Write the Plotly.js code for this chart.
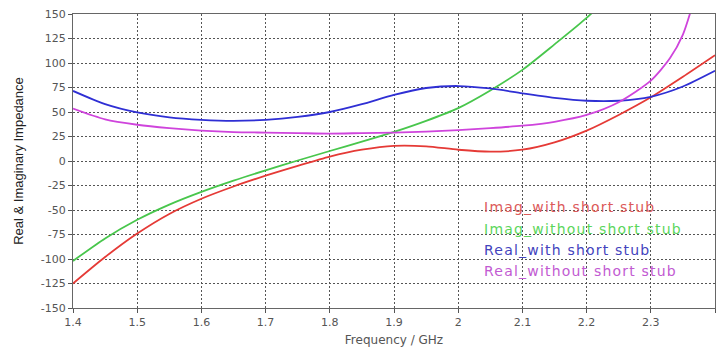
<!DOCTYPE html>
<html>
<head>
<meta charset="utf-8">
<script src="https://cdn.plot.ly/plotly-3.0.1.min.js"></script>
<style>
  html, body { margin: 0; padding: 0; background: #ffffff; }
  #chart { width: 719px; height: 347px; }
  .legend .legendlines, .legend .legendsymbols { display: none; }
  .legend .legendtext { letter-spacing: 1.2px; }
  .legend .scrollbox { clip-path: none !important; }
</style>
</head>
<body>
<div id="chart"></div>
<script>
// Frequency grid (GHz)
const freq = [1.40, 1.45, 1.50, 1.55, 1.60, 1.65, 1.70, 1.75, 1.80, 1.85, 1.90, 1.95, 2.00, 2.05, 2.10, 2.15, 2.20, 2.25, 2.30, 2.35, 2.40];

// Imag_with short stub
const imagWith = [-125, -98, -74, -54, -38.5, -26, -15, -5, 4.5, 11.5, 15.5, 15, 11.5, 9.5, 11.5, 19, 31, 47, 65, 86, 108];

// Imag_without short stub (leaves the top of the plot near 2.2 GHz)
const freqImagWithout = [1.40, 1.45, 1.50, 1.55, 1.60, 1.65, 1.70, 1.75, 1.80, 1.85, 1.90, 1.95, 2.00, 2.05, 2.10, 2.15, 2.20, 2.25];
const imagWithout = [-102, -79, -60, -44.5, -31.5, -20, -9.5, 0.5, 10.2, 19.7, 29.7, 41, 54, 72, 93, 119, 146, 178];

// Real_with short stub
const realWith = [71.5, 58, 49.5, 44.5, 42, 41, 42, 45, 50, 58, 67.5, 74.5, 76.5, 74, 69, 64.5, 61.5, 61.5, 65.5, 76, 92];

// Real_without short stub (leaves the top of the plot near 2.36 GHz)
const freqRealWithout = [1.40, 1.45, 1.50, 1.55, 1.60, 1.65, 1.70, 1.75, 1.80, 1.85, 1.90, 1.95, 2.00, 2.05, 2.10, 2.15, 2.20, 2.25, 2.30, 2.33, 2.35, 2.37];
const realWithout = [53.5, 42.5, 37, 33.5, 31, 29.5, 29, 28.5, 28, 28.5, 29, 30, 31.5, 33.5, 36, 40, 47, 60, 82, 105, 129, 170];

// Series names and tick labels
const seriesNames = ["Imag_with short stub", "Imag_without short stub", "Real_with short stub", "Real_without short stub"];
const lineColors = ["#e53a36", "#48c64c", "#2f2fd4", "#cf44dc"];
const legendColors = ["#dc5a5a", "#5cd65c", "#4343bd", "#c25ad2"];
const yTickVals = [-150, -125, -100, -75, -50, -25, 0, 25, 50, 75, 100, 125, 150];
const yTickText = ["-150", "-125", "-100", "-75", "-50", "-25", "0", "25", "50", "75", "100", "125", "150"];

const xs = [freq, freqImagWithout, freq, freqRealWithout];
const ys = [imagWith, imagWithout, realWith, realWithout];

const traces = seriesNames.map((n, i) => ({
  type: "scatter",
  mode: "lines",
  x: xs[i],
  y: ys[i],
  name: '<span style="color:' + legendColors[i] + '">' + n + '</span>',
  legendgroup: "g" + i,
  line: { color: lineColors[i], width: 1.8, shape: "spline", smoothing: 0.7 },
  hoverinfo: "x+y"
}));

const tickFont = { family: "DejaVu Sans, Verdana, sans-serif", size: 11, color: "#555555" };

const layout = {
  width: 719,
  height: 347,
  margin: { l: 73, r: 4, t: 14, b: 39 },
  paper_bgcolor: "#ffffff",
  plot_bgcolor: "#ffffff",
  showlegend: true,
  legend: {
    x: 0.578, y: 0.397, xanchor: "left", yanchor: "top",
    bgcolor: "rgba(255,255,255,0)",
    borderwidth: 0,
    font: { family: "DejaVu Sans, Verdana, sans-serif", size: 14, color: "#555555" },
    tracegroupgap: 0
  },
  xaxis: {
    range: [1.4, 2.4],
    dtick: 0.1,
    tick0: 1.4,
    showgrid: true,
    gridcolor: "#555555",
    griddash: "2px,2px",
    gridwidth: 1,
    zeroline: false,
    showline: true,
    linecolor: "#666666",
    linewidth: 1,
    mirror: true,
    ticks: "outside",
    ticklen: 4,
    tickcolor: "#555555",
    tickfont: tickFont,
    title: { text: "Frequency / GHz", font: { family: "DejaVu Sans, Verdana, sans-serif", size: 12, color: "#555555" } },
    automargin: false
  },
  yaxis: {
    range: [-150, 150],
    tickvals: yTickVals,
    ticktext: yTickText,
    showgrid: true,
    gridcolor: "#555555",
    griddash: "2px,2px",
    gridwidth: 1,
    zeroline: false,
    showline: true,
    linecolor: "#666666",
    linewidth: 1,
    mirror: true,
    ticks: "outside",
    ticklen: 4,
    tickcolor: "#555555",
    tickfont: tickFont,
    title: { text: "Real &amp; Imaginary Impedance", font: { family: "Liberation Sans, Arial, sans-serif", size: 13, color: "#222222" }, standoff: 14 },
    automargin: true
  }
};

Plotly.newPlot("chart", traces, layout, { displayModeBar: false, staticPlot: true });
</script>
</body>
</html>
